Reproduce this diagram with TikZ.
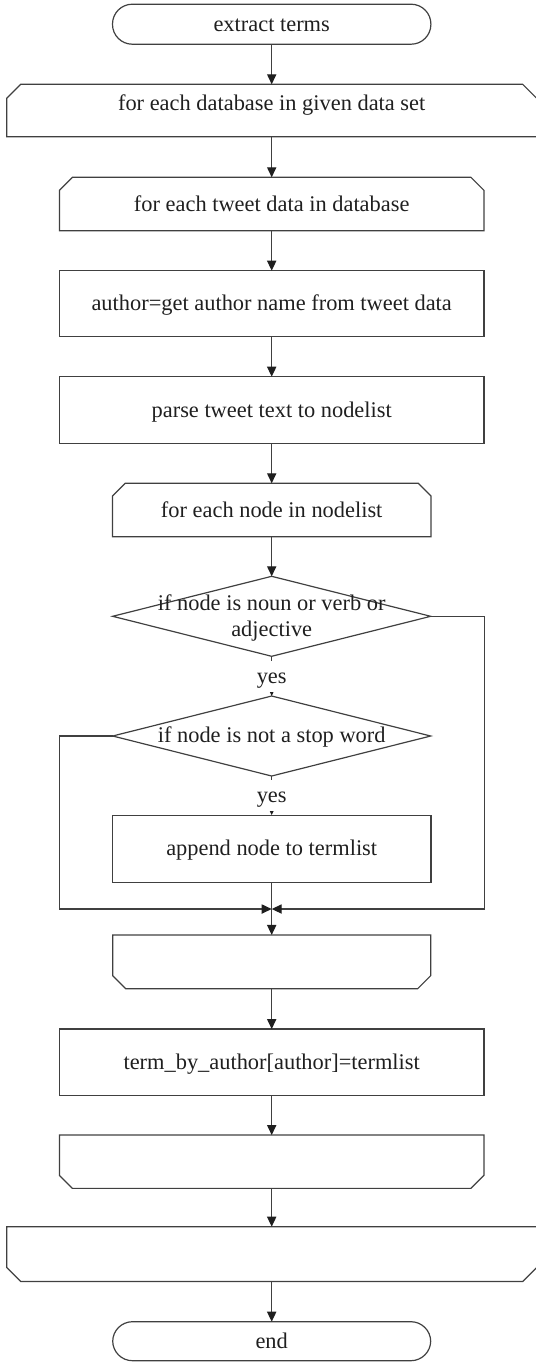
\documentclass[tikz,border=0pt]{standalone}
\usepackage{fontspec}
\setmainfont{Liberation Serif}
\usetikzlibrary{arrows.meta,shapes.geometric,calc}
\begin{document}
\begin{tikzpicture}[x=0.5pt,y=-0.5pt,
  lc/.style={draw=black!75, line width=0.6pt, line join=miter},
  arr/.style={lc, -{Triangle[length=5pt,width=4.6pt,color=black!88]}},
  txt/.style={font=\fontsize{11.2}{13}\selectfont, text=black!88, inner sep=0pt, outer sep=0pt},
  shp/.style={txt, rectangle, text height=7.5pt, text depth=0.5pt},
  procbox/.style={shp, lc},
  term/.style={shp, lc, rounded corners=9.9pt},
  dia/.style={diamond, lc, inner sep=0pt, outer sep=0pt, minimum width=159pt, minimum height=40pt},
  yeslbl/.style={txt, fill=white, text height=7.5pt, text depth=0.5pt, minimum height=15.6pt, inner xsep=1pt}
]
\useasboundingbox (0,0) rectangle (536,1362);

% start
\node[term, minimum width=159.2pt, minimum height=20pt] (st) at (271.7,24.2) {extract terms};

% loop 1 start
\node[shp, minimum width=265pt, minimum height=26.2pt, text height=4pt, text depth=4pt] (l1s) at (271.7,110.5) {for each database in given data set};
\draw[lc] ([xshift=7pt]l1s.north west) -- ([xshift=-7pt]l1s.north east) -- ([yshift=-7pt]l1s.north east) -- (l1s.south east) -- (l1s.south west) -- ([yshift=-7pt]l1s.north west) -- cycle;

% loop 2 start
\node[shp, minimum width=212.25pt, minimum height=26.7pt] (l2s) at (271.7,204) {for each tweet data in database};
\draw[lc] ([xshift=6.5pt]l2s.north west) -- ([xshift=-6.5pt]l2s.north east) -- ([yshift=-6.5pt]l2s.north east) -- (l2s.south east) -- (l2s.south west) -- ([yshift=-6.5pt]l2s.north west) -- cycle;

% process boxes
\node[procbox, minimum width=212.25pt, minimum height=33pt] (r3) at (271.7,303.7) {author=get author name from tweet data};
\node[procbox, minimum width=212.25pt, minimum height=33.3pt] (r4) at (271.7,410) {parse tweet text to nodelist};

% loop 3 start
\node[shp, minimum width=159.2pt, minimum height=26.7pt] (l3s) at (271.7,510) {for each node in nodelist};
\draw[lc] ([xshift=6.3pt]l3s.north west) -- ([xshift=-6.3pt]l3s.north east) -- ([yshift=-6.3pt]l3s.north east) -- (l3s.south east) -- (l3s.south west) -- ([yshift=-6.3pt]l3s.north west) -- cycle;

% decisions
\node[dia] (d1) at (271.7,616.3) {};
\node[dia] (d2) at (271.7,736) {};

% append box
\node[procbox, minimum width=159.2pt, minimum height=33.6pt] (r5) at (271.7,848.7) {append node to termlist};

% merge point
\coordinate (m) at (271.7,909);
\coordinate (rr) at (484.3,909);
\coordinate (ll) at (59.3,909);

% loop 3 end
\node[shp, minimum width=159pt, minimum height=26.85pt] (l3e) at (271.7,961.8) {};
\draw[lc] (l3e.north west) -- (l3e.north east) -- ([yshift=6.5pt]l3e.south east) -- ([xshift=-6.5pt]l3e.south east) -- ([xshift=6.5pt]l3e.south west) -- ([yshift=6.5pt]l3e.south west) -- cycle;

% result box
\node[procbox, minimum width=212.25pt, minimum height=33.15pt] (r6) at (271.7,1062.2) {term\_by\_author[author]=termlist};

% loop 2 end
\node[shp, minimum width=212.25pt, minimum height=26.65pt] (l2e) at (271.7,1161.7) {};
\draw[lc] (l2e.north west) -- (l2e.north east) -- ([yshift=6.5pt]l2e.south east) -- ([xshift=-6.5pt]l2e.south east) -- ([xshift=6.5pt]l2e.south west) -- ([yshift=6.5pt]l2e.south west) -- cycle;

% loop 1 end
\node[shp, minimum width=265pt, minimum height=27.4pt] (l1e) at (271.7,1254.1) {};
\draw[lc] (l1e.north west) -- (l1e.north east) -- ([yshift=7pt]l1e.south east) -- ([xshift=-7pt]l1e.south east) -- ([xshift=7pt]l1e.south west) -- ([yshift=7pt]l1e.south west) -- cycle;

% end
\node[term, minimum width=159pt, minimum height=19.5pt] (en) at (271.7,1341.2) {end};

% connectors
\draw[arr] (st) -- (l1s);
\draw[arr] (l1s) -- (l2s);
\draw[arr] (l2s) -- (r3);
\draw[arr] (r3) -- (r4);
\draw[arr] (r4) -- (l3s);
\draw[arr] (l3s) -- (d1);
\draw[arr] (d1) -- (d2) node[yeslbl, midway] (y1) {yes};
\draw[arr] (d2) -- (r5) node[yeslbl, midway] (y2) {yes};
\draw[arr] (d1.east) -| (rr) -- (m);
\draw[arr] (d2.west) -| (ll) -- (m);
\draw[lc] (r5) -- (m);
\draw[arr] (m) -- (l3e);
\draw[arr] (l3e) -- (r6);
\draw[arr] (r6) -- (l2e);
\draw[arr] (l2e) -- (l1e);
\draw[arr] (l1e) -- (en);

% decision texts
\node[txt, anchor=base] (d1a) at (271.7,610) {if node is noun or verb or};
\node[txt, anchor=base] (d1b) at (271.7,636) {adjective};
\node[txt, anchor=base] (d2a) at (271.7,742.7) {if node is not a stop word};
\end{tikzpicture}
\end{document}
